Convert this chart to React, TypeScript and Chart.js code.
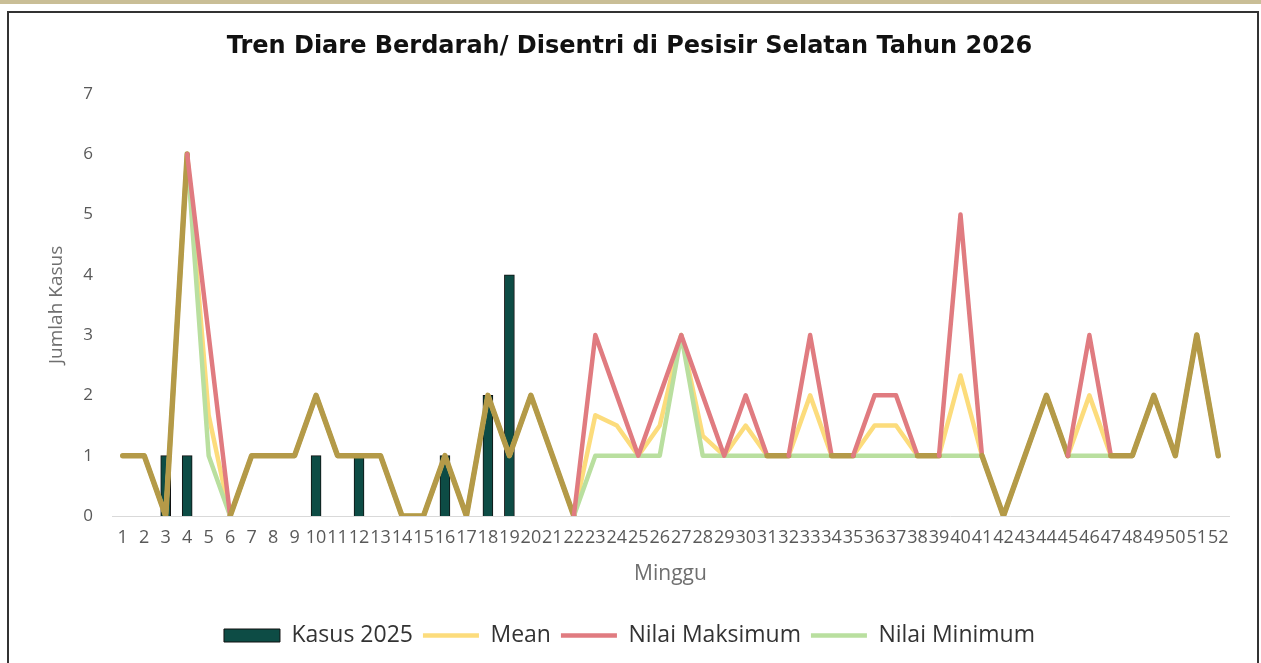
import React, { useEffect, useRef } from "react";
import { Chart, registerables } from "chart.js";

Chart.register(...registerables);

const weeks: string[] = [
  "1","2","3","4","5","6","7","8","9","10","11","12","13","14","15","16","17","18","19","20","21","22","23","24","25","26",
  "27","28","29","30","31","32","33","34","35","36","37","38","39","40","41","42","43","44","45","46","47","48","49","50","51","52",
];

const kasus2025: (number | null)[] = [
  null, null, 1, 1, null, null, null, null, null, 1, null, 1, null, null, null, 1, null, 2, 4, null, null, null, null, null, null, null,
  null, null, null, null, null, null, null, null, null, null, null, null, null, null, null, null, null, null, null, null, null, null, null, null, null, null,
];

const meanValues: number[] = [
  1, 1, 0, 6, 1.67, 0, 1, 1, 1, 2, 1, 1, 1, 0, 0, 1, 0, 2, 1, 2, 1, 0, 1.67, 1.5, 1, 1.5,
  3, 1.33, 1, 1.5, 1, 1, 2, 1, 1, 1.5, 1.5, 1, 1, 2.33, 1, 0, 1, 2, 1, 2, 1, 1, 2, 1, 3, 1,
];

const maxValues: number[] = [
  1, 1, 0, 6, 3, 0, 1, 1, 1, 2, 1, 1, 1, 0, 0, 1, 0, 2, 1, 2, 1, 0, 3, 2, 1, 2,
  3, 2, 1, 2, 1, 1, 3, 1, 1, 2, 2, 1, 1, 5, 1, 0, 1, 2, 1, 3, 1, 1, 2, 1, 3, 1,
];

const minValues: number[] = [
  1, 1, 0, 6, 1, 0, 1, 1, 1, 2, 1, 1, 1, 0, 0, 1, 0, 2, 1, 2, 1, 0, 1, 1, 1, 1,
  3, 1, 1, 1, 1, 1, 1, 1, 1, 1, 1, 1, 1, 1, 1, 0, 1, 2, 1, 1, 1, 1, 2, 1, 3, 1,
];

const yTicks: number[] = [0, 1, 2, 3, 4, 5, 6, 7];

const OLIVE = "#B49A48";
const RED = "#E07B80";
const YELLOW = "#FCDC7C";
const GREEN = "#B9DF9F";
const BAR = "#0D4C45";

const allEqual = (i: number) => minValues[i] === maxValues[i];

export default function App() {
  const ref = useRef<HTMLCanvasElement | null>(null);

  useEffect(() => {
    if (!ref.current) return;
    const chart = new Chart(ref.current, {
      type: "bar",
      data: {
        labels: weeks,
        datasets: [
          {
            type: "bar",
            label: "Kasus 2025",
            data: kasus2025,
            backgroundColor: BAR,
            borderColor: "#111",
            borderWidth: 1,
            barThickness: 10,
            order: 4,
            pointStyle: "rect",
          } as any,
          {
            type: "line",
            label: "Mean",
            data: meanValues,
            borderColor: YELLOW,
            backgroundColor: YELLOW,
            borderWidth: 4.5,
            pointRadius: 0,
            tension: 0,
            borderJoinStyle: "round",
            borderCapStyle: "round",
            order: 3,
            pointStyle: "line",
          },
          {
            type: "line",
            label: "Nilai Maksimum",
            data: maxValues,
            borderColor: RED,
            backgroundColor: RED,
            borderWidth: 4.5,
            pointRadius: 0,
            tension: 0,
            borderJoinStyle: "round",
            borderCapStyle: "round",
            order: 1,
            pointStyle: "line",
            segment: {
              borderColor: (ctx: any) =>
                allEqual(ctx.p0DataIndex) && allEqual(ctx.p1DataIndex) ? OLIVE : undefined,
              borderWidth: (ctx: any) =>
                allEqual(ctx.p0DataIndex) && allEqual(ctx.p1DataIndex) ? 5.5 : undefined,
            },
          },
          {
            type: "line",
            label: "Nilai Minimum",
            data: minValues,
            borderColor: GREEN,
            backgroundColor: GREEN,
            borderWidth: 4.5,
            pointRadius: 0,
            tension: 0,
            borderJoinStyle: "round",
            borderCapStyle: "round",
            order: 2,
            pointStyle: "line",
          },
        ],
      },
      options: {
        animation: false,
        responsive: false,
        maintainAspectRatio: false,
        layout: { padding: { left: 0, right: 6, top: 0, bottom: 6 } },
        plugins: {
          tooltip: { enabled: false },
          title: {
            display: true,
            text: "Tren Diare Berdarah/ Disentri di Pesisir Selatan Tahun 2026",
            color: "#111",
            font: { family: "'DejaVu Sans', sans-serif", size: 24, weight: "bold" },
            padding: { top: 19, bottom: 33 },
          },
          legend: {
            position: "bottom",
            labels: {
              usePointStyle: true,
              pointStyleWidth: 56,
              boxHeight: 13,
              padding: 10,
              color: "#333",
              font: { family: "'Open Sans', sans-serif", size: 23 },
              sort: (a: any, b: any) => a.datasetIndex - b.datasetIndex,
            },
          },
        },
        scales: {
          x: {
            offset: true,
            grid: { display: false, drawTicks: false },
            border: { display: true, color: "#D9D9D9", width: 1 },
            ticks: {
              autoSkip: false,
              maxRotation: 0,
              minRotation: 0,
              padding: 11,
              color: "#595959",
              font: { family: "'Open Sans', sans-serif", size: 18 },
            },
            title: {
              display: true,
              text: "Minggu",
              color: "#6f6f6f",
              font: { family: "'Open Sans', sans-serif", size: 21 },
              padding: { top: 0, bottom: 27 },
            },
            afterFit: (scale: any) => {
              scale.height = 98;
            },
          },
          y: {
            min: 0,
            max: 7,
            grid: { display: false, drawTicks: false },
            border: { display: false },
            afterBuildTicks: (scale: any) => {
              scale.ticks = yTicks.map((v) => ({ value: v }));
            },
            ticks: {
              stepSize: 1,
              padding: 19,
              color: "#595959",
              font: { family: "'Open Sans', sans-serif", size: 17 },
            },
            title: {
              display: true,
              text: "Jumlah Kasus",
              color: "#6f6f6f",
              font: { family: "'Open Sans', sans-serif", size: 19 },
              padding: { top: 36, bottom: 0 },
            },
            afterFit: (scale: any) => {
              scale.width = 103;
            },
          },
          yRight: {
            position: "right",
            display: true,
            min: 0,
            max: 7,
            grid: { display: false, drawTicks: false },
            border: { display: false },
            ticks: { display: false },
            afterFit: (scale: any) => {
              scale.width = 21;
            },
          },
        },
      },
    });
    return () => chart.destroy();
  }, []);

  return (
    <div
      style={{
        position: "fixed",
        left: 0,
        top: 0,
        width: 1261,
        height: 663,
        background: "#fff",
        overflow: "hidden",
      }}
    >
      <div style={{ position: "absolute", left: 0, top: 0, width: 1261, height: 4, background: "#C9BE96" }} />
      <div
        style={{
          position: "absolute",
          left: 7,
          top: 11,
          width: 1252,
          height: 670,
          border: "2px solid #333",
          boxSizing: "border-box",
          background: "#fff",
        }}
      >
        <canvas ref={ref} width={1247} height={650} style={{ display: "block", width: 1247, height: 650 }} />
      </div>
    </div>
  );
}
